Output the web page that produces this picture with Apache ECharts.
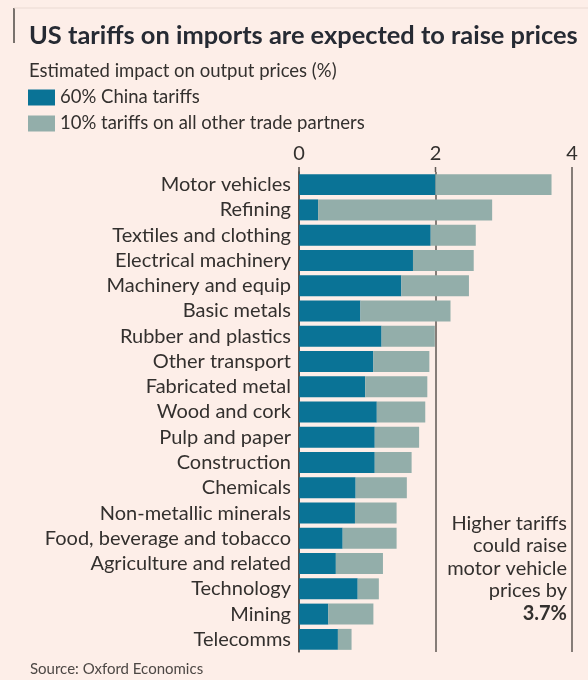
<!DOCTYPE html>
<html>
<head>
<meta charset="utf-8">
<script src="https://cdn.jsdelivr.net/npm/echarts@6/dist/echarts.min.js"></script>
<style>
  html, body { margin: 0; padding: 0; background: #fdeee8; }
  #chart { width: 588px; height: 680px; }
</style>
</head>
<body>
<div id="chart"></div>
<script>
// sectors, top to bottom
const sectors = [
  'Motor vehicles', 'Refining', 'Textiles and clothing', 'Electrical machinery',
  'Machinery and equip', 'Basic metals', 'Rubber and plastics', 'Other transport',
  'Fabricated metal', 'Wood and cork', 'Pulp and paper', 'Construction',
  'Chemicals', 'Non-metallic minerals', 'Food, beverage and tobacco',
  'Agriculture and related', 'Technology', 'Mining', 'Telecomms'
];
// 60% China tariffs (%)
const chinaTariffs = [
  2.0, 0.28, 1.93, 1.67, 1.50, 0.90, 1.21, 1.09, 0.97, 1.14,
  1.11, 1.11, 0.83, 0.82, 0.64, 0.54, 0.86, 0.43, 0.57
];
// 10% tariffs on all other trade partners (%)
const otherTariffs = [
  1.7, 2.55, 0.66, 0.89, 0.99, 1.32, 0.78, 0.82, 0.91, 0.71,
  0.65, 0.54, 0.75, 0.61, 0.79, 0.69, 0.31, 0.66, 0.20
];
const xTicks = [0, 2, 4];

const FONT = 'Lato, "Open Sans", sans-serif';
const ink = '#33302e';
const rule = '#5e5753';
const gridTop = 172;

const chart = echarts.init(document.getElementById('chart'));
chart.setOption({
  backgroundColor: '#fdeee8',
  animation: false,
  textStyle: { fontFamily: FONT },
  title: [
    {
      text: 'US tariffs on imports are expected to raise prices',
      left: 29, top: 23, padding: 0,
      textStyle: { fontFamily: FONT, fontSize: 25.4, fontWeight: 'bold', color: '#262a33' }
    },
    {
      text: 'Estimated impact on output prices (%)',
      left: 29, top: 62, padding: 0,
      textStyle: { fontFamily: FONT, fontSize: 18.5, fontWeight: 'normal', color: ink }
    },
    {
      text: 'Source: Oxford Economics',
      left: 30, top: 662, padding: 0,
      textStyle: { fontFamily: FONT, fontSize: 15, fontWeight: 'normal', color: '#4d4845' }
    }
  ],
  legend: {
    orient: 'vertical',
    left: 28, top: 88, padding: 0,
    itemWidth: 27, itemHeight: 16, itemGap: 7,
    icon: 'rect',
    textStyle: { fontFamily: FONT, fontSize: 18.5, color: ink },
    data: ['60% China tariffs', '10% tariffs on all other trade partners']
  },
  grid: { left: 299, right: 16, top: gridTop, bottom: 28 },
  xAxis: {
    type: 'value',
    position: 'top',
    min: xTicks[0], max: xTicks[xTicks.length - 1], interval: 2,
    axisLine: { show: false },
    axisTick: { show: false },
    axisLabel: { fontFamily: FONT, fontSize: 20, color: ink, margin: 8 },
    splitLine: { lineStyle: { color: rule, width: 1.5 } }
  },
  yAxis: {
    type: 'category',
    inverse: true,
    data: sectors,
    axisLine: { lineStyle: { color: '#4d4845', width: 1.5 } },
    axisTick: { alignWithLabel: true, interval: 0, length: 6, lineStyle: { color: '#4d4845' } },
    axisLabel: { interval: 0, fontFamily: FONT, fontSize: 20, color: ink, margin: 8 }
  },
  series: [
    {
      name: '60% China tariffs', type: 'bar', stack: 'total',
      data: chinaTariffs, barCategoryGap: '17%',
      itemStyle: { color: '#0a7396' }
    },
    {
      name: '10% tariffs on all other trade partners', type: 'bar', stack: 'total',
      data: otherTariffs, barCategoryGap: '17%',
      itemStyle: { color: '#93aeaa' }
    }
  ]
});

// rules poke a few pixels above the first bar, as in the original
const stubs = xTicks.map(v => {
  const x = chart.convertToPixel({ xAxisIndex: 0 }, v);
  return {
    type: 'line', silent: true,
    shape: { x1: x, y1: gridTop - 5, x2: x, y2: gridTop },
    style: { stroke: v === 0 ? '#4d4845' : rule, lineWidth: 1.5 }
  };
});

chart.setOption({
  graphic: [
    { type: 'line', shape: { x1: 14, y1: 8, x2: 14, y2: 43 }, style: { stroke: '#4d4845', lineWidth: 1.5 } },
    { type: 'line', shape: { x1: 14, y1: 8, x2: 588, y2: 8 }, style: { stroke: '#eadad3', lineWidth: 1 } },
    ...stubs,
    {
      type: 'text', x: 567, y: 512,
      style: {
        text: 'Higher tariffs\ncould raise\nmotor vehicle\nprices by\n{b|3.7%}',
        align: 'right',
        verticalAlign: 'top',
        font: '20px ' + FONT,
        fill: ink,
        lineHeight: 22.5,
        rich: { b: { fontWeight: 'bold', fontSize: 20, fontFamily: FONT, fill: ink, lineHeight: 22.5 } }
      }
    }
  ]
});
</script>
</body>
</html>
